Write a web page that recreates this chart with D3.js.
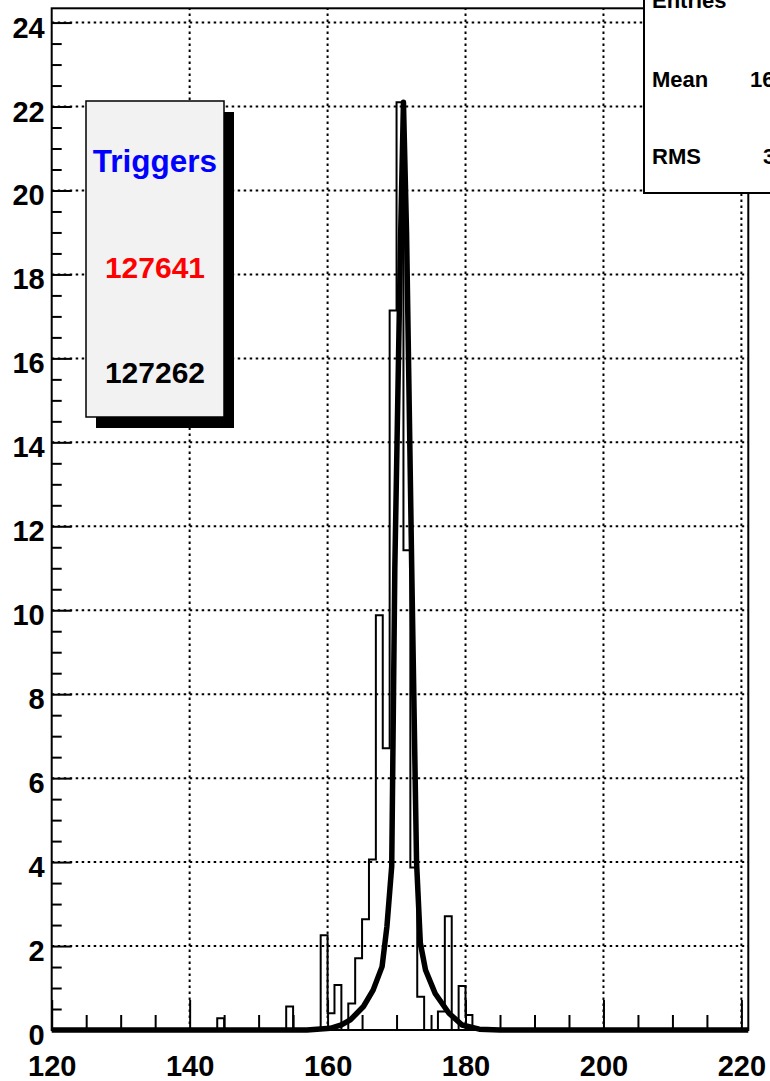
<!DOCTYPE html>
<html>
<head>
<meta charset="utf-8">
<script src="https://cdn.jsdelivr.net/npm/d3@7"></script>
<style>
  html, body { margin: 0; padding: 0; background: #ffffff; }
  svg { display: block; }
  text { font-family: "Liberation Sans", Arial, Helvetica, sans-serif; font-weight: bold; }
</style>
</head>
<body>
<script>
// ---- data ----
const xDomain = [120, 221];
const yDomain = [0, 24.34];
const xMajorTicks = [120, 140, 160, 180, 200, 220];
const yMajorTicks = [0, 2, 4, 6, 8, 10, 12, 14, 16, 18, 20, 22, 24];

// histogram: lower edge of each non-empty 1-unit bin and its content
const binLow = [144, 154, 159, 160, 161, 163, 164, 165, 166, 167, 168, 169, 170, 171, 172, 173, 176, 177, 179, 180];
const binVal = [0.28, 0.56, 2.26, 0.40, 1.07, 0.63, 1.71, 2.64, 4.06, 9.88, 6.71, 17.14, 22.1, 11.43, 3.87, 0.79, 0.44, 2.71, 1.05, 0.36];

// fitted curve samples
const curveX = [120, 157, 160.4, 162, 163.3, 165.2, 166.6, 167.9, 168.6, 169.3, 169.75, 170.6, 171.0, 171.45, 172.2, 172.9, 173.45, 174.2, 175.6, 177.6, 179.5, 182, 185, 221];
const curveY = [0, 0, 0.04, 0.12, 0.24, 0.56, 0.95, 1.51, 2.46, 3.9, 11, 19, 22.1, 19, 11, 4.0, 2.07, 1.43, 0.87, 0.40, 0.12, 0.02, 0, 0];

// legend / stats texts
const legendTitle = "Triggers";
const legendValues = ["127641", "127262"];
const legendColors = ["#ff0000", "#000000"];
const statsLabels = ["Entries", "Mean", "RMS"];
const statsValues = ["", "168.9", "3.47"];

// ---- drawing ----
const W = 770, H = 1081;
const svg = d3.select("body").append("svg").attr("width", W).attr("height", H);
svg.append("rect").attr("width", W).attr("height", H).attr("fill", "#ffffff");

const fx0 = 51.7, fx1 = 748.3, fy0 = 8.3, fy1 = 1030;
const x = d3.scaleLinear().domain(xDomain).range([fx0, fx1]);
const y = d3.scaleLinear().domain(yDomain).range([fy1, fy0]);

// grid
const grid = svg.append("g").attr("stroke", "#000").attr("stroke-width", 2).attr("stroke-dasharray", "2.5,3.5");
grid.selectAll("line.v").data(xMajorTicks.filter(d => d > 120)).join("line")
  .attr("x1", d => x(d)).attr("x2", d => x(d)).attr("y1", fy1).attr("y2", fy0);
grid.selectAll("line.h").data(yMajorTicks.filter(d => d > 0)).join("line")
  .attr("x1", fx0).attr("x2", fx1).attr("y1", d => y(d)).attr("y2", d => y(d));

// histogram
const full = [];
for (let b = xDomain[0]; b < xDomain[1]; b++) {
  const i = binLow.indexOf(b);
  full.push([b, i >= 0 ? binVal[i] : 0]);
}
const histPts = [[xDomain[0], 0]];
full.forEach(([lo, v]) => { histPts.push([lo, v]); histPts.push([lo + 1, v]); });
histPts.push([xDomain[1], 0]);
svg.append("path").datum(histPts)
  .attr("d", d3.line().x(d => x(d[0])).y(d => y(d[1])))
  .attr("fill", "none").attr("stroke", "#000").attr("stroke-width", 2);

// curve
const curvePts = curveX.map((v, i) => [v, curveY[i]]);
svg.append("path").datum(curvePts)
  .attr("d", d3.line().x(d => x(d[0])).y(d => y(d[1])))
  .attr("fill", "none").attr("stroke", "#000").attr("stroke-width", 5.5)
  .attr("stroke-linejoin", "round");

// frame
svg.append("rect").attr("x", fx0).attr("y", fy0).attr("width", fx1 - fx0).attr("height", fy1 - fy0)
  .attr("fill", "none").attr("stroke", "#000").attr("stroke-width", 2);

// axes
const yMinor = d3.range(0, 24.01, 0.5).filter(v => v % 2 !== 0);
const xMinor = d3.range(120, 221, 5).filter(v => v % 20 !== 0);

const yAxis = svg.append("g").attr("transform", `translate(${fx0},0)`)
  .call(d3.axisLeft(y).tickValues(yMajorTicks).tickSize(-20).tickPadding(7).tickFormat(d3.format("d")));
yAxis.select(".domain").remove();
yAxis.selectAll(".tick line").attr("stroke-width", 2);
yAxis.selectAll(".tick text").attr("font-size", 29).attr("dy", "0.5em").attr("fill", "#000")
  .style("font-family", "'Liberation Sans', Arial, sans-serif").style("font-weight", "bold");

const yAxisMinor = svg.append("g").attr("transform", `translate(${fx0},0)`)
  .call(d3.axisLeft(y).tickValues(yMinor).tickSize(-10).tickFormat(""));
yAxisMinor.select(".domain").remove();
yAxisMinor.selectAll(".tick line").attr("stroke-width", 2);

const xAxis = svg.append("g").attr("transform", `translate(0,${fy1})`)
  .call(d3.axisBottom(x).tickValues(xMajorTicks).tickSize(-30).tickPadding(25).tickFormat(d3.format("d")));
xAxis.select(".domain").remove();
xAxis.selectAll(".tick line").attr("stroke-width", 2);
xAxis.selectAll(".tick text").attr("font-size", 29).attr("fill", "#000")
  .style("font-family", "'Liberation Sans', Arial, sans-serif").style("font-weight", "bold");

const xAxisMinor = svg.append("g").attr("transform", `translate(0,${fy1})`)
  .call(d3.axisBottom(x).tickValues(xMinor).tickSize(-15).tickFormat(""));
xAxisMinor.select(".domain").remove();
xAxisMinor.selectAll(".tick line").attr("stroke-width", 2);

// legend box with shadow
const lg = { x: 86, y: 101, w: 138, h: 316 };
svg.append("rect").attr("x", lg.x + 10).attr("y", lg.y + 11).attr("width", lg.w).attr("height", lg.h).attr("fill", "#000");
svg.append("rect").attr("x", lg.x).attr("y", lg.y).attr("width", lg.w).attr("height", lg.h)
  .attr("fill", "#f2f2f2").attr("stroke", "#000").attr("stroke-width", 1.5);
svg.append("text").attr("x", lg.x + lg.w / 2).attr("y", 171.5).attr("text-anchor", "middle")
  .attr("font-size", 31.5).attr("fill", "#0000ff").text(legendTitle);
svg.selectAll("text.lv").data(legendValues).join("text").attr("class", "lv")
  .attr("x", lg.x + lg.w / 2).attr("y", (d, i) => [278, 383][i]).attr("text-anchor", "middle")
  .attr("font-size", 30).attr("fill", (d, i) => legendColors[i]).text(d => d);

// stats box (partially off-canvas, as in the reference)
svg.append("rect").attr("x", 644).attr("y", -20).attr("width", 200).attr("height", 213)
  .attr("fill", "#fff").attr("stroke", "#000").attr("stroke-width", 2);
const statY = [8, 87, 164];
svg.selectAll("text.sl").data(statsLabels).join("text").attr("class", "sl")
  .attr("x", 652).attr("y", (d, i) => statY[i]).attr("font-size", 22).attr("fill", "#000").text(d => d);
svg.selectAll("text.sv").data(statsValues).join("text").attr("class", "sv")
  .attr("x", (d, i) => [790, 750, 763][i]).attr("y", (d, i) => statY[i]).attr("font-size", 22).attr("fill", "#000").text(d => d);
</script>
</body>
</html>
